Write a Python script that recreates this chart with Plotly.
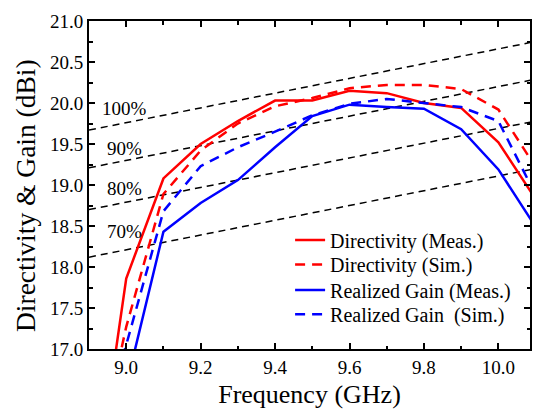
import plotly.graph_objects as go

# ---- data ----
freq = [8.9, 9.0, 9.1, 9.2, 9.3, 9.4, 9.5, 9.6, 9.7, 9.8, 9.9, 10.0, 10.1]

dir_meas = [14.7, 17.86, 19.08, 19.50, 19.78, 20.03, 20.03, 20.15, 20.12, 20.00, 19.94, 19.52, 18.83]
dir_sim = [15.2, 17.27, 18.89, 19.42, 19.75, 19.96, 20.06, 20.18, 20.22, 20.22, 20.17, 19.92, 19.22]
gain_meas = [None, 16.55, 18.43, 18.78, 19.06, 19.46, 19.84, 19.98, 19.95, 19.93, 19.68, 19.19, 18.49]
gain_sim = [15.5, 17.05, 18.68, 19.23, 19.46, 19.65, 19.85, 19.99, 20.05, 20.00, 19.95, 19.78, 18.88]

# aperture-efficiency reference lines (end points)
eff_freq = [8.9, 10.1]
eff_labels = ["100%", "90%", "80%", "70%"]
eff_values = {
    "100%": [19.67, 20.75],
    "90%": [19.21, 20.29],
    "80%": [18.70, 19.78],
    "70%": [18.12, 19.20],
}
eff_label_x = 8.995
eff_label_y = [19.93, 19.45, 18.96, 18.43]

FONT = "Times New Roman, Liberation Serif, serif"

fig = go.Figure()

for lab in eff_labels:
    fig.add_trace(go.Scatter(
        x=eff_freq, y=eff_values[lab], mode="lines",
        line=dict(color="black", width=1.5, dash="7px,5px"),
        showlegend=False, hoverinfo="skip"))

series = [
    ("Directivity (Meas.)", dir_meas, "red", "solid"),
    ("Directivity (Sim.)", dir_sim, "red", "10px,7px"),
    ("Realized Gain (Meas.)", gain_meas, "blue", "solid"),
    ("Realized Gain  (Sim.)", gain_sim, "blue", "10px,7px"),
]
legend_ids = ["legend", "legend2", "legend3", "legend4"]
legend_rows_y = [0.332, 0.258, 0.180, 0.106]

for (name, vals, col, dash), lid in zip(series, legend_ids):
    fig.add_trace(go.Scatter(
        x=freq, y=vals, mode="lines", name=name, legend=lid,
        line=dict(color=col, width=2.5, dash=dash)))

for lab, ly in zip(eff_labels, eff_label_y):
    fig.add_annotation(x=eff_label_x, y=ly, text=lab, showarrow=False,
                       xref="x", yref="y",
                       font=dict(family=FONT, size=19, color="black"))

# y-axis title (placed as annotation to match the reference's vertical offset)
fig.add_annotation(text="Directivity & Gain (dBi)", textangle=-90, showarrow=False,
                   xref="paper", yref="paper", x=0, y=0.5,
                   xanchor="center", yanchor="middle", xshift=-64, yshift=-11,
                   font=dict(family=FONT, size=27.5, color="black"))

axis_common = dict(
    showline=True, linewidth=2, linecolor="black", mirror="ticks",
    ticks="inside", ticklen=6, tickwidth=1.5, tickcolor="black",
    showgrid=False, zeroline=False,
    tickfont=dict(family=FONT, size=19, color="black"),
)

fig.update_xaxes(
    range=[8.9, 10.085], tick0=9.0, dtick=0.2, tickformat=".1f",
    minor=dict(dtick=0.1, tick0=9.0, ticks="inside", ticklen=3.5, tickwidth=1.5, tickcolor="black"),
    title=dict(text="Frequency (GHz)", font=dict(family=FONT, size=26, color="black"), standoff=8),
    **axis_common)
fig.update_yaxes(
    range=[17.0, 21.0], tick0=17.0, dtick=0.5, tickformat=".1f",
    minor=dict(dtick=0.25, tick0=17.0, ticks="inside", ticklen=3.5, tickwidth=1.5, tickcolor="black"),
    **axis_common)

legend_style = dict(x=0.456, xanchor="left", yanchor="middle",
                    bgcolor="rgba(0,0,0,0)", borderwidth=0,
                    font=dict(family=FONT, size=20, color="black"))

fig.update_layout(
    width=533, height=410,
    margin=dict(l=89, r=1, t=21, b=61),
    paper_bgcolor="white", plot_bgcolor="white",
    font=dict(family=FONT, color="black"),
    showlegend=True,
    legend=dict(y=legend_rows_y[0], **legend_style),
    legend2=dict(y=legend_rows_y[1], **legend_style),
    legend3=dict(y=legend_rows_y[2], **legend_style),
    legend4=dict(y=legend_rows_y[3], **legend_style),
)

fig.write_html("out.html", config={"displayModeBar": False},
               post_script="document.body.style.margin='0';document.body.style.padding='0';")
